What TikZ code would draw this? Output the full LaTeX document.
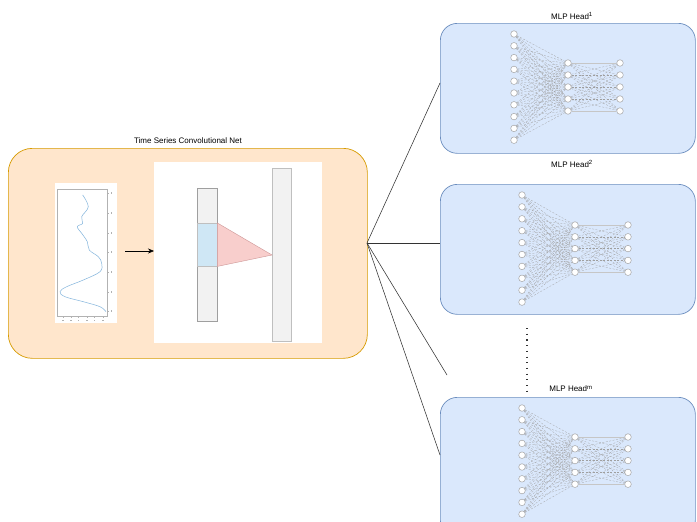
\documentclass[tikz,border=0pt]{standalone}
\usepackage{fontspec}
\setmainfont{Liberation Sans}
\usetikzlibrary{arrows.meta}
\definecolor{orfill}{RGB}{255,230,204}
\definecolor{ordraw}{RGB}{215,155,0}
\definecolor{blfill}{RGB}{218,232,252}
\definecolor{bldraw}{RGB}{108,142,191}
\definecolor{barfill}{RGB}{242,242,242}
\definecolor{cyanfill}{RGB}{207,231,245}
\definecolor{pinkfill}{RGB}{248,206,204}
\definecolor{curveblue}{RGB}{130,180,220}
\pgfdeclarelayer{bgl}
\pgfdeclarelayer{edgel}
\pgfsetlayers{bgl,edgel,main}
\begin{document}
\begin{tikzpicture}[x=1pt,y=-1pt,
  convbox/.style={draw=ordraw, fill=orfill, rounded corners=24pt, line width=0.7pt, inner sep=0pt, anchor=north west},
  headbox/.style={draw=bldraw, fill=blfill, rounded corners=17pt, line width=0.7pt, inner sep=0pt, anchor=north west},
  panel/.style={fill=white, draw=none, inner sep=0pt, anchor=north west},
  neuron/.style={circle, draw=gray!75, fill=white, inner sep=0pt, minimum size=6.6pt, line width=0.45pt},
  syn/.style={draw=gray!75, line width=0.25pt, dash pattern=on 2pt off 1.5pt},
  synsolid/.style={draw=gray!45, line width=0.35pt},
  link/.style={draw=black!80, line width=0.55pt},
  lbl/.style={font=\fontsize{8}{9.6}\selectfont, inner sep=0pt},
  axis/.style={draw=gray!60, line width=0.35pt},
  tickdot/.style={fill=gray!60, draw=none},
]
\clip (0,0) rectangle (697,522);

% ---------- boxes ----------
\begin{pgfonlayer}{bgl}
\fill[white] (0,0) rectangle (697,522);
\node[convbox, minimum width=359pt, minimum height=210pt] (conv) at (8,148) {};
\node[headbox, minimum width=255pt, minimum height=130pt] (h1) at (440,23) {};
\node[headbox, minimum width=255pt, minimum height=130pt] (h2) at (440,184) {};
\node[headbox, minimum width=255pt, minimum height=140pt] (h3) at (440,397) {};
\end{pgfonlayer}
\node[lbl] (convtitle) at (188,141) {Time Series Convolutional Net};

% plot panel
\node[panel, minimum width=62pt, minimum height=140pt] (plotimg) at (55,183) {};
\draw[axis] (57,189) rectangle (107,316);
\foreach \ty in {193,213,233,252,272,292,311}{
  \draw[axis] (107,\ty) -- (109,\ty);
  \fill[tickdot] (110.5,{\ty-1}) rectangle (112,{\ty+1});
}
\foreach \tx in {62.7,70.7,78.3,86.7,94.3,102.7}{
  \draw[axis] (\tx,316) -- (\tx,318);
  \fill[tickdot] ({\tx-0.8},319.5) rectangle ({\tx+0.8},320.6);
}
\draw[curveblue, line width=0.5pt] plot[smooth, tension=0.6] coordinates {
 (82.7,195) (88.3,206.7) (81.7,216.7) (82.7,223.3) (77.3,226.7) (81.7,233.3)
 (87.3,241.7) (89.3,250) (98.3,256.7) (101.7,263.3) (100,271.7) (83.3,280)
 (66.7,286.7) (60,291.7) (65,296.7) (83.3,301.7) (100,306.7) (106,311.7)};

% conv panel
\node[panel, minimum width=168pt, minimum height=181pt] (cpanel) at (154,162) {};
\node[draw=gray!75, fill=barfill, line width=0.6pt, inner sep=0pt, minimum width=20pt, minimum height=133pt, anchor=north west] (bar1) at (197,188) {};
\node[draw=gray!50, fill=cyanfill, line width=0.4pt, inner sep=0pt, minimum width=20pt, minimum height=43pt, anchor=north west] (seg) at (197,223) {};
\node[draw=gray!50, fill=barfill, line width=0.5pt, inner sep=0pt, minimum width=19pt, minimum height=173pt, anchor=north west] (bar2) at (272,168) {};
\draw[draw={rgb,255:red,205;green,150;blue,150}, fill=pinkfill, line width=0.4pt]
  (seg.north east) -- (272,255) -- (seg.south east) -- cycle;

\coordinate (arrs) at (125,251);
\draw[black, line width=0.6pt, -{Stealth[length=6pt,width=5pt]}] (arrs) -- (arrs -| cpanel.west);

% ---------- links to heads ----------
\coordinate (hub) at (367,243);
\coordinate (e1) at (440,83);
\coordinate (e2) at (440,243);
\coordinate (e3) at (447,375);
\coordinate (e4) at (440,455);
\draw[link] (hub) -- (e1);
\draw[link] (hub) -- (e2);
\draw[link] (hub) -- (e3);
\draw[link] (hub) -- (e4);

% dotted
\coordinate (dA) at (527,328);
\coordinate (dB) at (527,394);
\draw[black!80, line width=1.1pt, dash pattern=on 1.1pt off 4.6pt] (dA) -- (dB);

% ---------- heads ----------
\node[lbl] (t1) at (572,16) {MLP Head\textsuperscript{1}};
\node[lbl] (t2) at (572,164) {MLP Head\textsuperscript{2}};
\node[lbl] (t3) at (571,389) {MLP Head\textsuperscript{m}};

\foreach \h/\lx/\ly/\ls/\mx/\my/\ms/\rx in {1/514/34/11.8/568/63/12/620, 2/522/195/11.9/575/225/11.8/628, 3/522/408/11.8/575/437/11.8/628}{
  \foreach \i in {1,...,10}{
    \node[neuron] (L\h-\i) at (\lx,{\ly+(\i-1)*\ls}) {};
  }
  \foreach \j in {1,...,5}{
    \node[neuron] (M\h-\j) at (\mx,{\my+(\j-1)*\ms}) {};
    \node[neuron] (R\h-\j) at (\rx,{\my+(\j-1)*\ms}) {};
  }
  \begin{pgfonlayer}{edgel}
  \foreach \i in {1,...,10}{
    \foreach \j in {1,...,5}{
      \draw[syn] (L\h-\i) -- (M\h-\j);
    }
  }
  \foreach \j in {1,...,5}{
    \foreach \k in {1,...,5}{
      \pgfmathtruncatemacro{\solidq}{(\j==\k)&&((\j==1)||(\j==5))}
      \ifnum\solidq=1
        \draw[synsolid] (M\h-\j) -- (R\h-\k);
      \else
        \draw[syn] (M\h-\j) -- (R\h-\k);
      \fi
    }
  }
  \end{pgfonlayer}
}
\end{tikzpicture}
\end{document}
